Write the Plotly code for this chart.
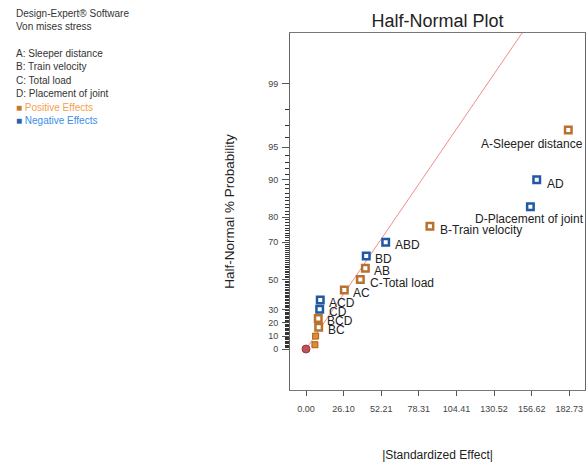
import plotly.graph_objects as go
from statistics import NormalDist

# ---------------- data ----------------
effect_names = ["A-Sleeper distance", "AD", "D-Placement of joint", "B-Train velocity",
                "ABD", "BD", "AB", "C-Total load", "AC", "ACD", "CD", "BCD", "BC", "", ""]
effect_abs = [182.0, 160.1, 155.7, 86.0, 55.3, 41.8, 41.2, 37.7, 26.6, 9.9, 9.5, 8.5, 8.8, 6.7, 6.2]
effect_prob = [96.67, 90.0, 83.33, 76.67, 70.0, 63.33, 56.67, 50.0, 43.33, 36.67, 30.0, 23.33, 16.67, 10.0, 3.33]
effect_sign = ["pos", "neg", "neg", "pos", "neg", "neg", "pos", "pos", "pos", "neg", "neg", "pos", "pos", "pos", "pos"]

origin_x = [0.0]
origin_prob = [0.0]

line_x = [0.0, 170.0]
line_prob = [0.0, 99.95]

x_ticks = [0.00, 26.10, 52.21, 78.31, 104.41, 130.52, 156.62, 182.73]
y_tick_pct = [0, 10, 20, 30, 50, 70, 80, 90, 95, 99]
y_minor_pct = [p for p in range(1, 99) if p not in y_tick_pct]

side_lines = ["Design-Expert® Software", "Von mises stress", "",
              "A: Sleeper distance", "B: Train velocity", "C: Total load", "D: Placement of joint"]

# ---------------- helpers ----------------
nd = NormalDist()


def hz(p):
    """half-normal probability (percent) -> quantile"""
    return nd.inv_cdf(0.5 + p / 200.0)


FONT = "Liberation Sans, Arial, sans-serif"
POS_EDGE = "#B8722E"
NEG_EDGE = "#2158A3"

W_PLOT, H_PLOT, L, T = 295, 357, 290, 33
X_RANGE = [-11.1, 193.6]

fig = go.Figure()

# fitted line
fig.add_trace(go.Scatter(x=line_x, y=[hz(p) for p in line_prob], mode="lines",
                         line=dict(color="#F08C8C", width=1), hoverinfo="skip", showlegend=False))

# origin point
fig.add_trace(go.Scatter(x=origin_x, y=[hz(p) for p in origin_prob], mode="markers",
                         marker=dict(symbol="circle", size=8, color="#C0505C",
                                     line=dict(color="#9A3A44", width=1)),
                         showlegend=False))

# labeled and unlabeled effects
lab_x, lab_y, lab_c = [], [], []
sm_x, sm_y = [], []
for n, x, p, s in zip(effect_names, effect_abs, effect_prob, effect_sign):
    if n:
        lab_x.append(x)
        lab_y.append(hz(p))
        lab_c.append(POS_EDGE if s == "pos" else NEG_EDGE)
    else:
        sm_x.append(x)
        sm_y.append(hz(p))

fig.add_trace(go.Scatter(x=sm_x, y=sm_y, mode="markers",
                         marker=dict(symbol="square", size=6, color="#E58A2C",
                                     line=dict(color="#A85E1C", width=1)),
                         showlegend=False))
fig.add_trace(go.Scatter(x=lab_x, y=lab_y, mode="markers",
                         marker=dict(symbol="square", size=6.5, color="white",
                                     line=dict(color=lab_c, width=2.5)),
                         showlegend=False))

# point labels
label_style = {
    "A-Sleeper distance": dict(xanchor="right", xshift=17, yshift=-14),
    "D-Placement of joint": dict(xanchor="center", xshift=-1, yshift=-12),
    "AD": dict(xanchor="left", xshift=8, yshift=-4),
    "B-Train velocity": dict(xanchor="left", xshift=8, yshift=-4),
    "C-Total load": dict(xanchor="left", xshift=8, yshift=-3),
}
for n, x, p in zip(effect_names, effect_abs, effect_prob):
    if not n:
        continue
    st = label_style.get(n, dict(xanchor="left", xshift=7, yshift=-3))
    fig.add_annotation(x=x, y=hz(p), xref="x", yref="y", text=n, showarrow=False,
                       yanchor="middle", font=dict(family=FONT, size=12, color="#222222"), **st)


def px2paper(px, py):
    return (px - L) / W_PLOT, (T + H_PLOT - py) / H_PLOT


side_y = [13.5, 26.5, 40, 53, 66.5, 80, 93.5]
for txt, py in zip(side_lines, side_y):
    if not txt:
        continue
    xp, yp = px2paper(14, py)
    fig.add_annotation(x=xp, y=yp, xref="paper", yref="paper", text=txt, showarrow=False,
                       xanchor="left", yanchor="middle",
                       font=dict(family=FONT, size=10, color="#333333"))
for txt, py, tc, mc in [("Positive Effects", 107, "#F5A04E", "#C8772E"),
                        ("Negative Effects", 120.5, "#3D8DE8", "#2B62AA")]:
    xp, yp = px2paper(14, py)
    fig.add_annotation(x=xp, y=yp, xref="paper", yref="paper",
                       text=f"<span style='color:{mc}'>■</span> {txt}", showarrow=False,
                       xanchor="left", yanchor="middle",
                       font=dict(family=FONT, size=10, color=tc))

fig.update_layout(
    width=587, height=468,
    margin=dict(l=L, r=2, t=T, b=468 - T - H_PLOT),
    paper_bgcolor="white", plot_bgcolor="white",
    title=dict(text="Half-Normal Plot", x=0.5, xref="paper", xanchor="center",
               y=1 - 21 / 468, yanchor="middle",
               font=dict(family=FONT, size=18, color="#222222")),
    font=dict(family=FONT),
)

fig.update_xaxes(range=X_RANGE, tickvals=x_ticks, ticktext=[f"{v:.2f}" for v in x_ticks],
                 ticks="outside", ticklen=5, tickcolor="#555", tickwidth=1,
                 tickfont=dict(family=FONT, size=9, color="#444"), ticklabelstandoff=5,
                 showline=True, linecolor="#777", linewidth=1, mirror=True,
                 showgrid=False, zeroline=False,
                 title=dict(text="|Standardized Effect|", standoff=37,
                            font=dict(family=FONT, size=12, color="#222222")))

fig.update_yaxes(range=[-0.398, 3.07], tickvals=[hz(p) for p in y_tick_pct],
                 ticktext=[str(p) for p in y_tick_pct],
                 ticks="outside", ticklen=7, tickcolor="#555", tickwidth=1,
                 tickfont=dict(family=FONT, size=9, color="#444"), ticklabelstandoff=2,
                 minor=dict(tickmode="array", tickvals=[hz(p) for p in y_minor_pct],
                            ticks="outside", ticklen=4, tickcolor="#333", tickwidth=1,
                            showgrid=False),
                 showline=True, linecolor="#666", linewidth=1, mirror=True,
                 showgrid=False, zeroline=False,
                 title=dict(text="Half-Normal % Probability", standoff=30,
                            font=dict(family=FONT, size=13.5, color="#222222")))

fig.write_html("out.html")
